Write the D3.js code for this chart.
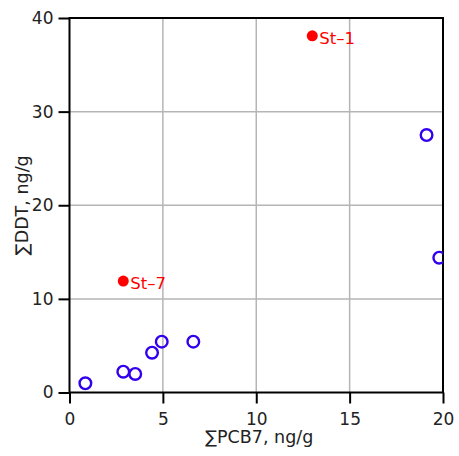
<!DOCTYPE html>
<html><head><meta charset="utf-8">
<script src="https://cdn.jsdelivr.net/npm/d3@7"></script>
<style>body{margin:0;background:#fff}svg{display:block}text{font-family:"DejaVu Sans",sans-serif}</style>
</head><body>
<svg id="c" width="459" height="456"></svg>
<script>
const openX = [0.85, 2.88, 3.52, 4.42, 4.94, 6.63, 19.12, 19.8];
const openY = [0.98, 2.22, 1.98, 4.25, 5.43, 5.43, 27.5, 14.4];
const labeledX = [13.0, 2.88];
const labeledY = [38.1, 11.9];
const labeledNames = ["St\u20131", "St\u20137"];
const xTicks = [0, 5, 10, 15, 20];
const yTicks = [0, 10, 20, 30, 40];
const xTitle = "\u2211PCB7, ng/g";
const yTitle = "\u2211DDT, ng/g";

const L = 69.5, R = 443, T = 18, B = 392.5;
const svg = d3.select("#c");
const x = d3.scaleLinear().domain([0, 20]).range([L, R]);
const y = d3.scaleLinear().domain([0, 40]).range([B, T]);

svg.append("defs").append("clipPath").attr("id", "clip")
  .append("rect").attr("x", L).attr("y", T).attr("width", R - L).attr("height", B - T);

// grid
const g = svg.append("g");
g.selectAll("line.gx").data(xTicks.slice(1, -1)).join("line")
  .attr("x1", d => x(d)).attr("x2", d => x(d)).attr("y1", T).attr("y2", B)
  .attr("stroke", "#b5b5b5").attr("stroke-width", 1.5);
g.selectAll("line.gy").data(yTicks.slice(1, -1)).join("line")
  .attr("y1", d => y(d)).attr("y2", d => y(d)).attr("x1", L).attr("x2", R)
  .attr("stroke", "#b5b5b5").attr("stroke-width", 1.5);

// axes
const xa = svg.append("g").attr("transform", `translate(0,${B})`)
  .call(d3.axisBottom(x).tickValues(xTicks).tickSize(11).tickSizeOuter(0).tickPadding(9));
const ya = svg.append("g").attr("transform", `translate(${L},0)`)
  .call(d3.axisLeft(y).tickValues(yTicks).tickSize(11).tickSizeOuter(0).tickPadding(5));
[xa, ya].forEach(a => {
  a.select(".domain").remove();
  a.selectAll("line").attr("stroke", "#000").attr("stroke-width", 2);
  a.selectAll("text").attr("font-size", 17).attr("fill", "#222").attr("font-family", "DejaVu Sans");
});

// frame
svg.append("rect").attr("x", L).attr("y", T).attr("width", R - L).attr("height", B - T)
  .attr("fill", "none").attr("stroke", "#000").attr("stroke-width", 2);

// titles
svg.append("text").attr("x", (L + R) / 2 + 3).attr("y", 443).attr("text-anchor", "middle")
  .attr("font-size", 17.5).attr("fill", "#222").text(xTitle);
svg.append("text").attr("transform", `translate(28,${(T + B) / 2}) rotate(-90)`)
  .attr("text-anchor", "middle").attr("font-size", 17.5).attr("fill", "#222").text(yTitle);

// points
const pts = svg.append("g").attr("clip-path", "url(#clip)");
pts.selectAll("circle.o").data(openX.map((v, i) => [v, openY[i]])).join("circle")
  .attr("cx", d => x(d[0])).attr("cy", d => y(d[1])).attr("r", 5.8)
  .attr("fill", "none").attr("stroke", "#3300ee").attr("stroke-width", 2.4);
const lab = labeledX.map((v, i) => [v, labeledY[i], labeledNames[i]]);
pts.selectAll("circle.f").data(lab).join("circle")
  .attr("cx", d => x(d[0])).attr("cy", d => y(d[1])).attr("r", 5.5).attr("fill", "#ff0000");
svg.selectAll("text.lab").data(lab).join("text")
  .attr("x", d => x(d[0]) + 7).attr("y", d => y(d[1]) + 8)
  .attr("font-size", 16.5).attr("fill", "#ff0000").text(d => d[2]);
</script>
</body></html>
